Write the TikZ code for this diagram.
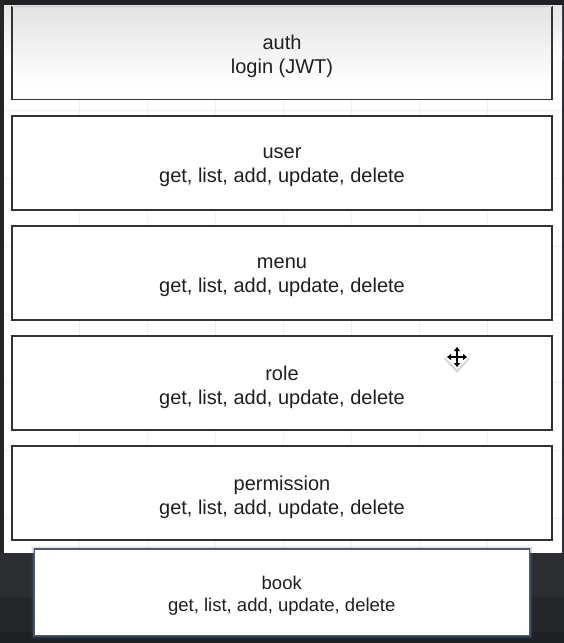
\documentclass[tikz,border=0pt]{standalone}
\usepackage{fontspec}
\setmainfont{Liberation Sans}
\usetikzlibrary{arrows.meta}
\definecolor{darkbg}{HTML}{2B2D30}
\definecolor{darkbgb}{HTML}{25262A}
\definecolor{darkbgc}{HTML}{1F2023}
\definecolor{gridc}{HTML}{EFEFEF}
\definecolor{boxline}{HTML}{333333}
\definecolor{glow}{HTML}{4A7FB5}
\tikzset{
  modbox/.style={draw=boxline, line width=1.5pt, fill=white, rectangle, inner sep=0pt,
    minimum width=540pt, minimum height=94pt},
  bookbox/.style={draw=boxline!80, line width=1pt, fill=white, rectangle, inner sep=0pt,
    minimum width=495pt, minimum height=86pt},
  txt/.style={inner sep=0pt, align=center, font=\fontsize{20}{24}\selectfont, text=black!88},
  booktxt/.style={inner sep=0pt, align=center, font=\fontsize{18.5}{22}\selectfont, text=black!88},
  gridline/.style={draw=gridc, line width=0.8pt}
}
\begin{document}
\begin{tikzpicture}[x=1pt,y=-1pt]
\useasboundingbox (0,0) rectangle (564,643);
% dark surroundings
\fill[darkbg] (0,0) rectangle (564,643);
\fill[darkbgb] (0,597) rectangle (564,632);
\fill[darkbgc] (0,632) rectangle (564,643);
\fill[darkbgc] (0,0) rectangle (564,5);
\fill[black!85] (0,0) rectangle (4,553);
% canvas
\fill[white] (4,5) rectangle (562,553);
% grid
\foreach \gx in {79,147,215,283,351,419,487}
  \draw[gridline] (\gx,60) -- (\gx,553);
\foreach \gy in {110,178,246,314,382,450,518}
  \draw[gridline] (4,\gy) -- (562,\gy);
\shade[top color=black!10, bottom color=white] (4,5) rectangle (562,60);
% auth box (top edge hidden under canvas edge)
\fill[white] (12,6) rectangle (552,99.25);
\shade[top color=black!11, bottom color=white] (12,6) rectangle (552,85);
\draw[boxline, line width=1.5pt] (12,6) -- (12,99.25) -- (552,99.25) -- (552,6);
\draw[black!22, line width=1pt] (12,6) -- (552,6);
\coordinate (authc) at (282,52.5);
\node[txt] (auth) at ([yshift=-4pt]authc) {auth\\login (JWT)};
% module boxes
\node[modbox] (user) at (282,163) {};
\node[modbox] (menu) at (282,273) {};
\node[modbox] (role) at (282,383) {};
\node[modbox] (perm) at (282,493) {};
\node[txt] (userT) at ([yshift=-4pt]user.center) {user\\get, list, add, update, delete};
\node[txt] (menuT) at ([yshift=-4pt]menu.center) {menu\\get, list, add, update, delete};
\node[txt] (roleT) at ([yshift=-4pt]role.center) {role\\get, list, add, update, delete};
\node[txt] (permT) at ([yshift=-4pt]perm.center) {permission\\get, list, add, update, delete};
% book (dragged) with glow
\foreach \w/\o in {7/0.08,5/0.15,3/0.3}
  \draw[glow, line width=\w pt, opacity=\o] (34.5,549.5) rectangle (529,635);
\node[bookbox] (book) at (281.75,592.25) {};
\draw[black!65, line width=1.5pt] (book.north west) -- (book.north east);
\node[booktxt] (bookT) at ([yshift=-3pt]book.center) {book\\get, list, add, update, delete};
% move cursor
\fill[black!30, opacity=0.5] (457,345) -- (470,359) -- (457,373) -- (444,359) -- cycle;
\fill[white] (457,345) -- (469,357) -- (457,369) -- (445,357) -- cycle;
\coordinate (cl) at (447,357);
\coordinate (cr) at (467,357);
\coordinate (ct) at (457,347);
\coordinate (cb) at (457,367);
\draw[black, line width=2pt, {Triangle[length=4pt,width=6pt]}-{Triangle[length=4pt,width=6pt]}] (cl) -- (cr);
\draw[black, line width=2pt, {Triangle[length=4pt,width=6pt]}-{Triangle[length=4pt,width=6pt]}] (ct) -- (cb);
\end{tikzpicture}
\end{document}
